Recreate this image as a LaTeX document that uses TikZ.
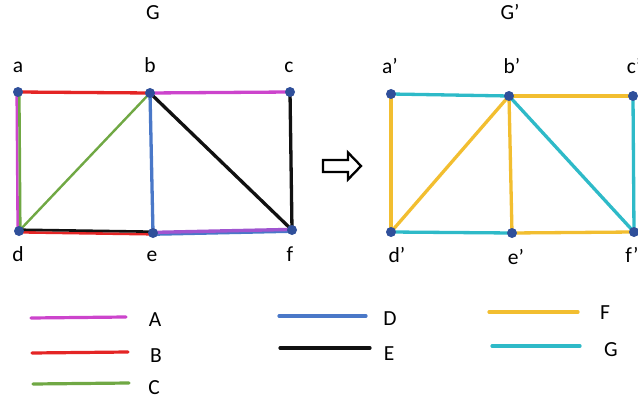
\documentclass[tikz,border=0pt]{standalone}
\usepackage{fontspec}
\setmainfont{Carlito}
\usetikzlibrary{backgrounds}
\definecolor{cA}{HTML}{CC44CC}
\definecolor{cB}{HTML}{E42525}
\definecolor{cC}{HTML}{70A844}
\definecolor{cD}{HTML}{4A78C8}
\definecolor{cE}{HTML}{111111}
\definecolor{cF}{HTML}{F2BE30}
\definecolor{cG}{HTML}{2EBAC8}
\definecolor{cP}{HTML}{A055D0}
\definecolor{dotc}{HTML}{2F4F9A}
\begin{document}
\begin{tikzpicture}[x=1pt,y=-1pt,
 vtx/.style={circle,fill=dotc,inner sep=0pt,minimum size=10pt},
 lbl/.style={inner sep=0pt,anchor=base,font=\fontsize{21.5}{25}\selectfont},
 edge/.style={line width=3.3pt},
 dedge/.style={line width=2.6pt},
 leg/.style={line width=3.2pt,line cap=round}]
\useasboundingbox (0,0) rectangle (638,404);

% titles
\node[lbl] (tG) at (153,20) {G};
\node[lbl] (tGp) at (510,20) {G’};

% vertices of G
\node[vtx] (a) at (18,92) {};
\node[vtx] (b) at (150,93) {};
\node[vtx] (c) at (290,92) {};
\node[vtx] (d) at (19,231) {};
\node[vtx] (e) at (153,233) {};
\node[vtx] (f) at (292,230) {};
% vertices of G'
\node[vtx] (ap) at (391,94) {};
\node[vtx] (bp) at (509,96) {};
\node[vtx] (cp) at (633,96) {};
\node[vtx] (dp) at (391,232) {};
\node[vtx] (ep) at (512,233) {};
\node[vtx] (fp) at (634,232) {};

% vertex labels
\node[lbl] (la) at (18,73) {a};
\node[lbl] (lb) at (150,73) {b};
\node[lbl] (lc) at (289,73) {c};
\node[lbl] (ld) at (18,261) {d};
\node[lbl] (le) at (152,261) {e};
\node[lbl] (lf) at (290,261) {f};
\node[lbl] (lap) at (390,74) {a’};
\node[lbl] (lbp) at (512,74) {b’};
\node[lbl] (lcp) at (634,74) {c’};
\node[lbl] (ldp) at (397,262) {d’};
\node[lbl] (lep) at (516,264) {e’};
\node[lbl] (lfp) at (632,262) {f’};

\begin{scope}[on background layer]
\fill[white] (0,0) rectangle (638,404);
% G edges
\draw[edge,cB] (a.center) -- (b.center);
\draw[edge,cA] (b.center) -- (c.center);
\draw[dedge,cA] ([xshift=-1.3pt]a.center) -- ([xshift=-1.3pt]d.center);
\draw[dedge,cC] ([xshift=1.3pt]a.center) -- ([xshift=1.3pt]d.center);
\draw[line width=2.4pt,cC] (b.center) -- (d.center);
\draw[edge,cD] (b.center) -- (e.center);
\draw[edge,cE] (b.center) -- (f.center);
\draw[edge,cE] (c.center) -- (f.center);
\draw[dedge,cB] ([yshift=-1.3pt]d.center) -- ([yshift=-1.3pt]e.center);
\draw[dedge,cE] ([yshift=1.3pt]d.center) -- ([yshift=1.3pt]e.center);
\draw[dedge,cD] ([yshift=-1.6pt]e.center) -- ([yshift=-1.6pt]f.center);
\draw[line width=3.4pt,cP] ([yshift=0.6pt]e.center) -- ([yshift=0.6pt]f.center);
% G' edges
\draw[edge,cG] (ap.center) -- (bp.center);
\draw[edge,cF] (bp.center) -- (cp.center);
\draw[edge,cF] (ap.center) -- (dp.center);
\draw[edge,cF] (bp.center) -- (dp.center);
\draw[edge,cF] (bp.center) -- (ep.center);
\draw[edge,cG] (bp.center) -- (fp.center);
\draw[edge,cG] (cp.center) -- (fp.center);
\draw[edge,cG] (dp.center) -- (ep.center);
\draw[edge,cF] (ep.center) -- (fp.center);
\end{scope}

% transformation arrow
\draw[line width=2.3pt,line join=miter] (323,160) -- (348,160) -- (348,152.5) -- (361,166) -- (348,179.5) -- (348,172) -- (323,172) -- cycle;

% legend
\coordinate (A1) at (31,318); \coordinate (A2) at (126,317);
\coordinate (B1) at (32,353); \coordinate (B2) at (128,352);
\coordinate (C1) at (33,384); \coordinate (C2) at (129,383);
\coordinate (D1) at (279,316); \coordinate (D2) at (366,316);
\coordinate (E1) at (280,348); \coordinate (E2) at (370,348);
\coordinate (F1) at (489,312); \coordinate (F2) at (578,312);
\coordinate (G1) at (492,346); \coordinate (G2) at (580,346);
\draw[leg,cA] (A1) -- (A2);
\draw[leg,cB] (B1) -- (B2);
\draw[leg,cC] (C1) -- (C2);
\draw[leg,cD] (D1) -- (D2);
\draw[leg,cE] (E1) -- (E2);
\draw[leg,cF] (F1) -- (F2);
\draw[leg,cG] (G1) -- (G2);
\node[lbl] (lA) at (155,326) {A};
\node[lbl] (lB) at (156,362) {B};
\node[lbl] (lC) at (154,394) {C};
\node[lbl] (lD) at (390,325) {D};
\node[lbl] (lE) at (389,360) {E};
\node[lbl] (lF) at (605,319) {F};
\node[lbl] (lGl) at (611,356) {G};
\end{tikzpicture}
\end{document}
